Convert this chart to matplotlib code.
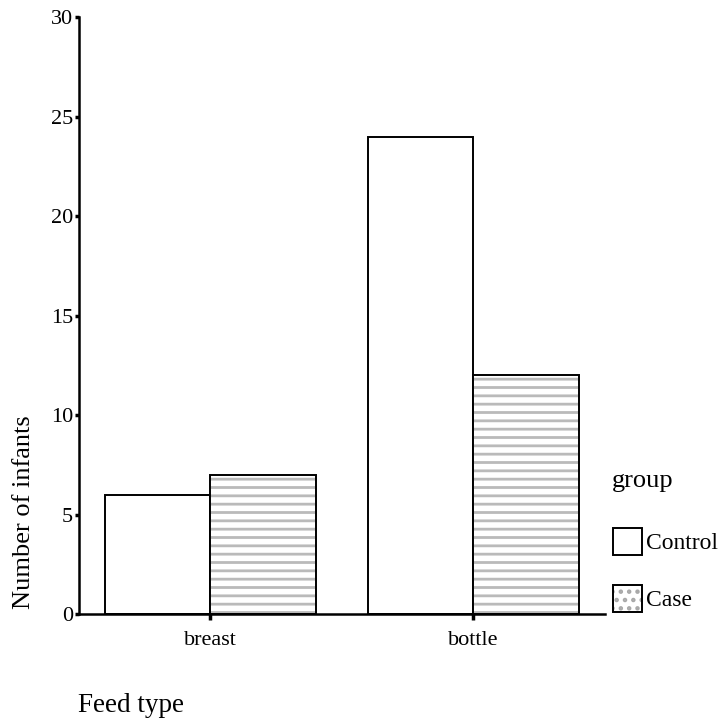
import matplotlib
matplotlib.use('Agg')
import matplotlib.pyplot as plt
from matplotlib.patches import Patch
from matplotlib.legend_handler import HandlerTuple
import numpy as np

plt.rcParams['font.family'] = ['Liberation Serif', 'DejaVu Serif']
plt.rcParams['hatch.linewidth'] = 2.0

feed_types = ['breast', 'bottle']
groups = ['Control', 'Case']
control_counts = [6, 24]
case_counts = [7, 12]

fig = plt.figure(figsize=(7.22, 7.19), dpi=100)
ax = fig.add_axes([0.109, 0.146, 0.729, 0.83])

x = np.arange(len(feed_types))
w = 0.4
hatch_grey = '#bababa'

# control bars: plain white
ax.bar(x - w / 2, control_counts, w, color='white', edgecolor='black', linewidth=1.4, zorder=2)
# case bars: grey streaky hatch, black outline drawn on top
ax.bar(x + w / 2, case_counts, w, color='white', edgecolor=hatch_grey, hatch='--', linewidth=0, zorder=2)
ax.bar(x + w / 2, case_counts, w, color='none', edgecolor='black', linewidth=1.4, zorder=3)

ax.set_xlim(-0.5, 1.5)
ax.set_ylim(0, 30)
ax.set_yticks(range(0, 31, 5))
ax.set_xticks(x)
ax.set_xticklabels(feed_types)

for side in ['top', 'right']:
    ax.spines[side].set_visible(False)
for side in ['left', 'bottom']:
    ax.spines[side].set_linewidth(1.8)

ax.tick_params(axis='y', length=3, width=2.5, labelsize=16, pad=1)
ax.tick_params(axis='x', length=4, width=2.5, labelsize=16, pad=8)

fig.text(0.033, 0.288, 'Number of infants', fontsize=19, rotation=90,
         ha='center', va='center')
fig.text(0.108, 0.0097, 'Feed type', fontsize=19.5, ha='left', va='baseline')

# legend
fig.text(0.848, 0.3227, 'group', fontsize=19, ha='left', va='baseline')
case_handle = (
    Patch(facecolor='white', edgecolor='#a8a8a8', hatch='..', linewidth=0),
    Patch(facecolor='none', edgecolor='black', linewidth=1.4),
)
handles = [Patch(facecolor='white', edgecolor='black', linewidth=1.4), case_handle]
ax.legend(handles, groups, loc='upper left',
          bbox_to_anchor=(0.849, 0.2656), bbox_transform=fig.transFigure,
          frameon=False, fontsize=17,
          handlelength=1.25, handleheight=1.35, handletextpad=0.15,
          labelspacing=1.3, borderpad=0, borderaxespad=0,
          handler_map={tuple: HandlerTuple(ndivide=1, pad=0)})

fig.savefig('out.png', dpi=100)
